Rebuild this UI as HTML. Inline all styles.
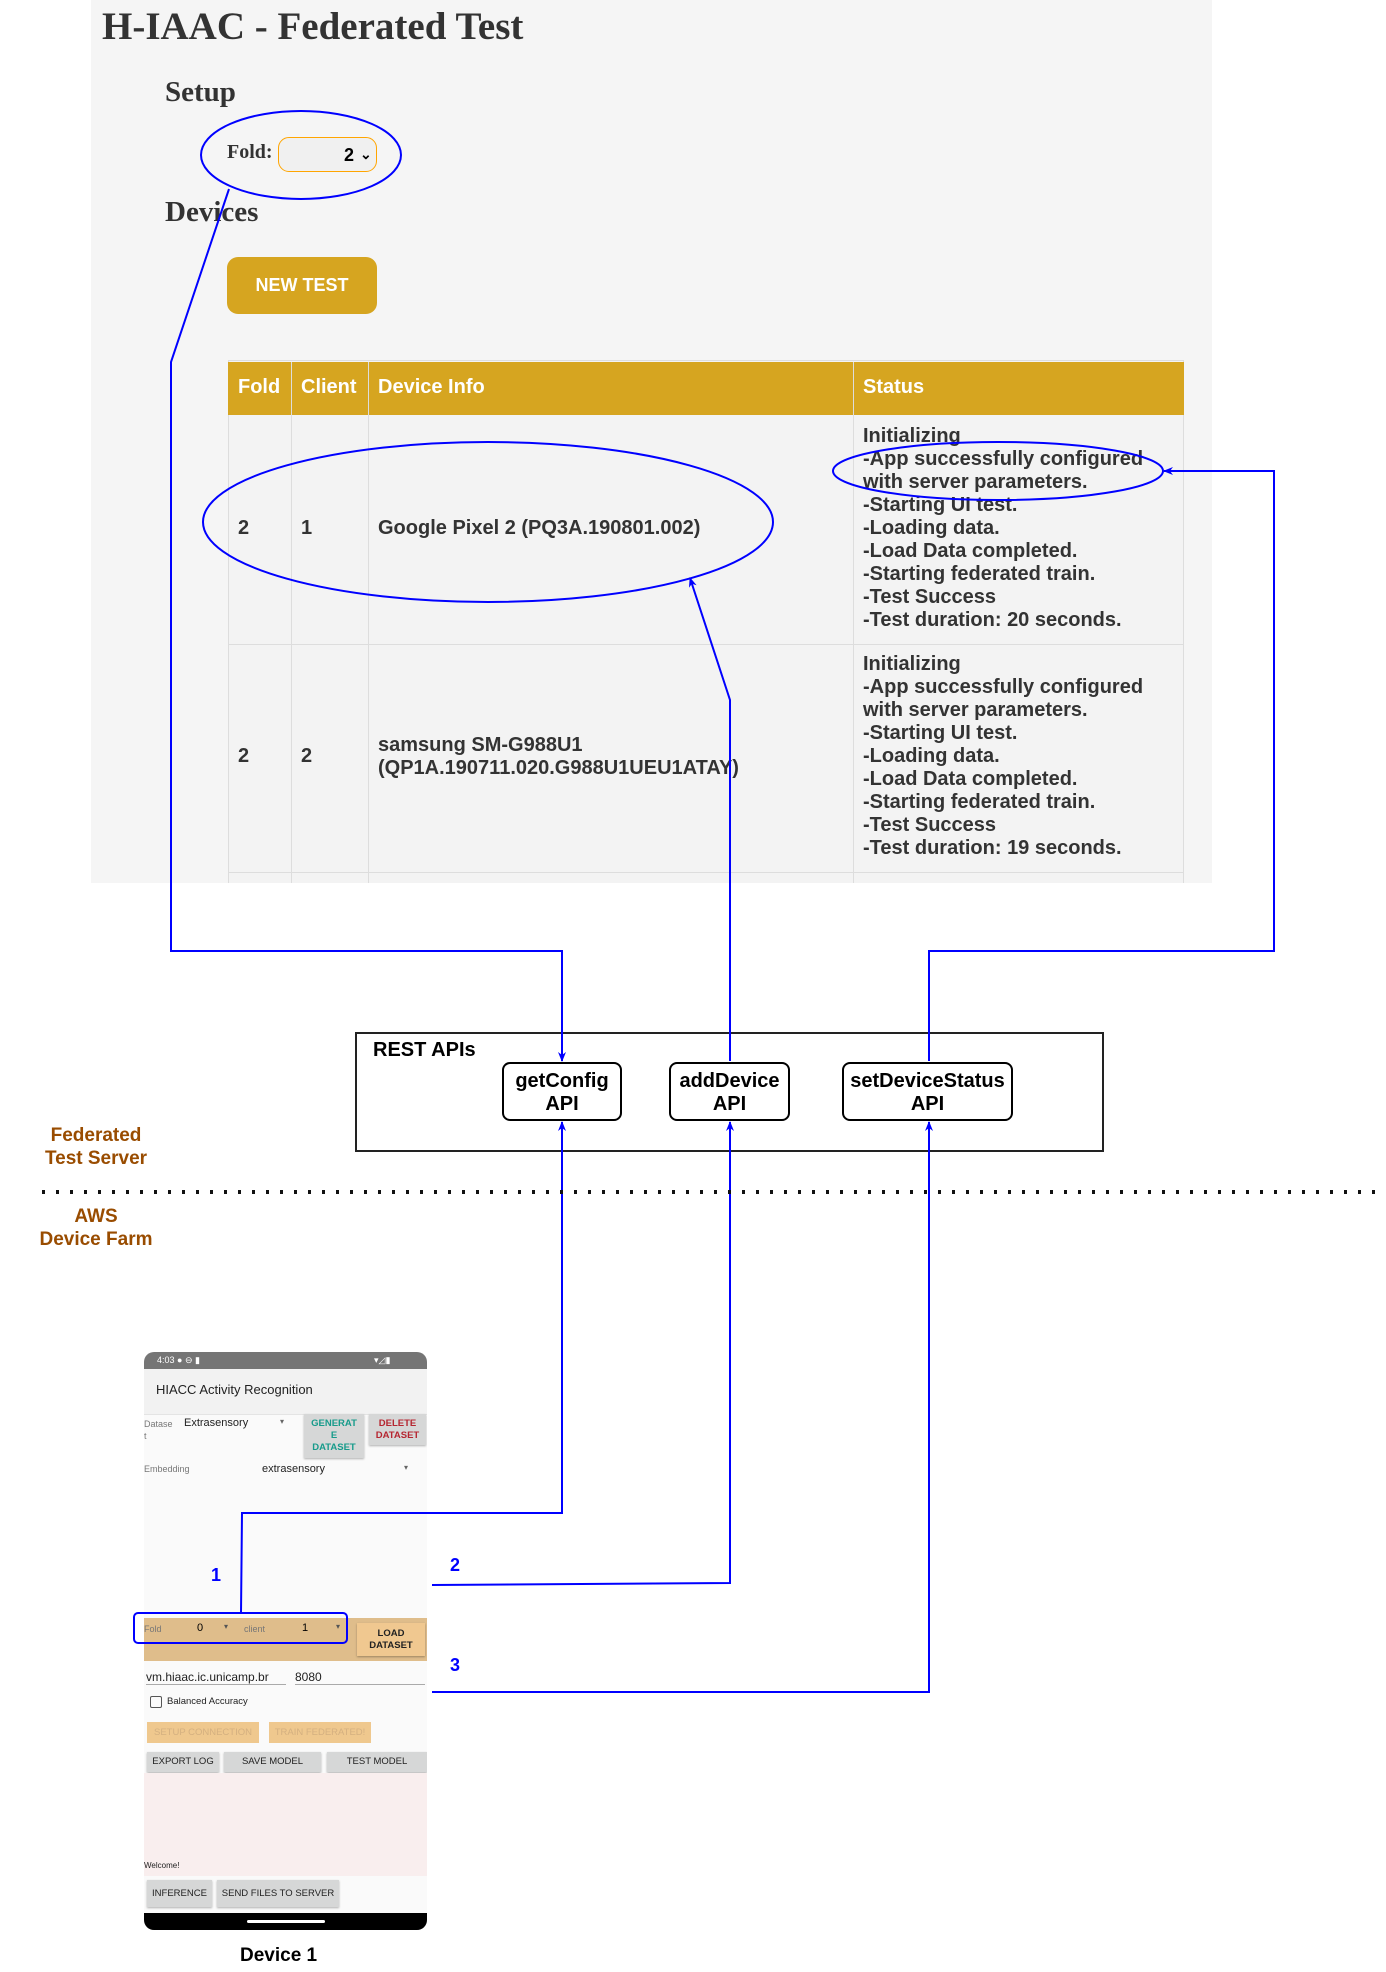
<!DOCTYPE html>
<html><head><meta charset="utf-8"><style>
*{margin:0;padding:0;box-sizing:border-box}
body{width:1386px;height:1972px;background:#fff;position:relative;overflow:hidden;font-family:"Liberation Sans",sans-serif}
.a{position:absolute;white-space:nowrap}
.serif{font-family:"Liberation Serif",serif;font-weight:bold;color:#333}
.td{position:absolute;font-size:20px;font-weight:bold;color:#333}
.st{position:absolute;left:863px;font-size:20px;font-weight:bold;color:#333;line-height:23px}
.api{position:absolute;border:2px solid #000;border-radius:8px;background:#fff;text-align:center;font-size:20px;font-weight:bold;line-height:23px;padding-top:6px}
.lbl{position:absolute;color:#994c00;font-weight:bold;font-size:19px;text-align:center;width:160px;line-height:23px}
.pb{position:absolute;background:#d6d7d7;font-size:9.5px;color:#222;text-align:center;box-shadow:0 1px 2px rgba(0,0,0,.3)}
</style></head><body>
<div class="a" style="left:91px;top:0;width:1121px;height:883px;background:#f5f5f5"></div>
<div class="a serif" style="left:102px;top:4px;font-size:39px">H-IAAC - Federated Test</div>
<div class="a serif" style="left:165px;top:76px;font-size:29px">Setup</div>
<div class="a serif" style="left:227px;top:141px;font-size:20px">Fold:</div>
<div class="a" style="left:278px;top:137px;width:99px;height:35px;border:1.5px solid #ffa500;border-radius:11px;background:#f0f0f0;font-size:18px;font-weight:bold;text-align:right;padding:7px 22px 0 0">2</div>
<div class="a" style="left:360px;top:146px;font-size:14px;font-weight:bold">&#8964;</div>
<div class="a serif" style="left:165px;top:196px;font-size:29px">Devices</div>
<div class="a" style="left:227px;top:257px;width:150px;height:57px;background:#d6a520;border-radius:11px;color:#fff;font-weight:bold;font-size:18px;text-align:center;line-height:57px">NEW TEST</div>

<div class="a" style="left:228px;top:360px;width:956px;height:523px;background:#f3f3f3;border:1px solid #ddd;border-bottom:none"></div>
<div class="a" style="left:228px;top:362px;width:956px;height:53px;background:#d6a520"></div>
<div class="a" style="left:228px;top:644px;width:956px;height:1px;background:#ddd"></div>
<div class="a" style="left:228px;top:872px;width:956px;height:1px;background:#ddd"></div>
<div class="a" style="left:291px;top:362px;width:1px;height:521px;background:#ddd"></div>
<div class="a" style="left:368px;top:362px;width:1px;height:521px;background:#ddd"></div>
<div class="a" style="left:853px;top:362px;width:1px;height:521px;background:#ddd"></div>
<div class="td" style="left:238px;top:376px;color:#fff">Fold</div>
<div class="td" style="left:301px;top:376px;color:#fff">Client</div>
<div class="td" style="left:378px;top:376px;color:#fff">Device Info</div>
<div class="td" style="left:863px;top:376px;color:#fff">Status</div>
<div class="td" style="left:238px;top:517px">2</div>
<div class="td" style="left:301px;top:517px">1</div>
<div class="td" style="left:378px;top:517px">Google Pixel 2 (PQ3A.190801.002)</div>
<div class="st" style="top:425px">Initializing<br>-App successfully configured<br>with server parameters.<br>-Starting UI test.<br>-Loading data.<br>-Load Data completed.<br>-Starting federated train.<br>-Test Success<br>-Test duration: 20 seconds.</div>
<div class="td" style="left:238px;top:745px">2</div>
<div class="td" style="left:301px;top:745px">2</div>
<div class="td" style="left:378px;top:734px;line-height:23px">samsung SM-G988U1<br>(QP1A.190711.020.G988U1UEU1ATAY)</div>
<div class="st" style="top:653px">Initializing<br>-App successfully configured<br>with server parameters.<br>-Starting UI test.<br>-Loading data.<br>-Load Data completed.<br>-Starting federated train.<br>-Test Success<br>-Test duration: 19 seconds.</div>

<div class="a" style="left:355px;top:1032px;width:749px;height:120px;border:2.5px solid #222"></div>
<div class="a" style="left:373px;top:1039px;font-size:20px;font-weight:bold">REST APIs</div>
<div class="api" style="left:502px;top:1062px;width:120px;height:59px">getConfig<br>API</div>
<div class="api" style="left:669px;top:1062px;width:121px;height:59px">addDevice<br>API</div>
<div class="api" style="left:842px;top:1062px;width:171px;height:59px">setDeviceStatus<br>API</div>
<div class="lbl" style="left:16px;top:1124px">Federated<br>Test Server</div>
<div class="lbl" style="left:16px;top:1205px">AWS<br>Device Farm</div>

<!-- phone -->
<div class="a" style="left:144px;top:1352px;width:283px;height:578px;background:#fafafa;border-radius:10px;overflow:hidden">
 <div class="a" style="left:0;top:0;width:283px;height:17px;background:#757575;color:#fff;font-size:9px;padding:3px 0 0 13px">4:03 ● ⊖ ▮<span style="position:absolute;left:230px">▾◿▮</span></div>
 <div class="a" style="left:0;top:17px;width:283px;height:46px;background:#f2f2f2;border-bottom:1px solid #e4e4e4;font-size:13px;color:#222;padding:13px 0 0 12px">HIACC Activity Recognition</div>
 <div class="a" style="left:0;top:66px;font-size:9px;color:#777;line-height:12px">Datase<br>t</div>
 <div class="a" style="left:40px;top:65px;font-size:11px;color:#222">Extrasensory</div>
 <div class="a" style="left:136px;top:65px;font-size:8px;color:#666">▾</div>
 <div class="pb" style="left:160px;top:62px;width:60px;height:44px;color:#179b8b;font-weight:bold;line-height:12px;padding-top:4px">GENERAT<br>E<br>DATASET</div>
 <div class="pb" style="left:225px;top:62px;width:57px;height:31px;color:#b52530;font-weight:bold;line-height:12px;padding-top:4px">DELETE<br>DATASET</div>
 <div class="a" style="left:0;top:112px;font-size:9px;color:#777">Embedding</div>
 <div class="a" style="left:118px;top:111px;font-size:11px;color:#222">extrasensory</div>
 <div class="a" style="left:260px;top:111px;font-size:8px;color:#666">▾</div>
 <div class="a" style="left:0;top:266px;width:283px;height:43px;background:#dfbd8b"></div>
 <div class="a" style="left:0;top:272px;font-size:9px;color:#777">Fold</div>
 <div class="a" style="left:53px;top:270px;font-size:11px">0</div>
 <div class="a" style="left:80px;top:270px;font-size:8px;color:#555">▾</div>
 <div class="a" style="left:100px;top:272px;font-size:9px;color:#777">client</div>
 <div class="a" style="left:158px;top:270px;font-size:11px">1</div>
 <div class="a" style="left:192px;top:270px;font-size:8px;color:#555">▾</div>
 <div class="pb" style="left:213px;top:271px;width:68px;height:33px;background:#f0c890;font-weight:bold;line-height:12px;padding-top:5px">LOAD<br>DATASET</div>
 <div class="a" style="left:2px;top:318px;font-size:12px;color:#222;width:140px;border-bottom:1px solid #aaa;height:15px">vm.hiaac.ic.unicamp.br</div>
 <div class="a" style="left:151px;top:318px;font-size:12px;color:#222;width:130px;border-bottom:1px solid #aaa;height:15px">8080</div>
 <div class="a" style="left:6px;top:344px;width:12px;height:12px;border:1.5px solid #555;border-radius:2px"></div>
 <div class="a" style="left:23px;top:344px;font-size:9.5px;color:#222">Balanced Accuracy</div>
 <div class="pb" style="left:3px;top:370px;width:112px;height:21px;background:#efc88e;color:#d4b080;line-height:21px;box-shadow:none">SETUP CONNECTION</div>
 <div class="pb" style="left:125px;top:370px;width:102px;height:21px;background:#efc88e;color:#d4b080;line-height:21px;box-shadow:none">TRAIN FEDERATED!</div>
 <div class="pb" style="left:3px;top:400px;width:72px;height:20px;line-height:20px">EXPORT LOG</div>
 <div class="pb" style="left:80px;top:400px;width:97px;height:20px;line-height:20px">SAVE MODEL</div>
 <div class="pb" style="left:183px;top:400px;width:100px;height:20px;line-height:20px">TEST MODEL</div>
 <div class="a" style="left:0;top:421px;width:283px;height:103px;background:#f9eeee"></div>
 <div class="a" style="left:0;top:509px;font-size:8px;color:#222">Welcome!</div>
 <div class="pb" style="left:3px;top:528px;width:65px;height:27px;line-height:27px">INFERENCE</div>
 <div class="pb" style="left:73px;top:528px;width:122px;height:27px;line-height:27px">SEND FILES TO SERVER</div>
 <div class="a" style="left:0;top:561px;width:283px;height:17px;background:#000"></div>
 <div class="a" style="left:103px;top:568px;width:78px;height:3px;background:#fff;border-radius:2px"></div>
</div>
<div class="a" style="left:240px;top:1945px;font-size:19px;font-weight:bold">Device 1</div>
<div class="a" style="left:211px;top:1565px;font-size:18px;font-weight:bold;color:#00f">1</div>
<div class="a" style="left:450px;top:1555px;font-size:18px;font-weight:bold;color:#00f">2</div>
<div class="a" style="left:450px;top:1655px;font-size:18px;font-weight:bold;color:#00f">3</div>

<svg class="a" style="left:0;top:0" width="1386" height="1972">
<defs><marker id="ar" markerWidth="10" markerHeight="10" refX="9" refY="5" orient="auto" markerUnits="userSpaceOnUse"><path d="M0,1 L10,5 L0,9 L3,5 Z" fill="#00f"/></marker></defs>
<g fill="none" stroke="#00f" stroke-width="2">
<ellipse cx="301" cy="155" rx="100" ry="44"/>
<ellipse cx="488" cy="522" rx="285" ry="80"/>
<ellipse cx="998" cy="471" rx="165" ry="29"/>
<polyline points="229,189 171,362 171,951 562,951 562,1061" marker-end="url(#ar)"/>
<polyline points="730,1061 730,700 690,578" marker-end="url(#ar)"/>
<polyline points="929,1061 929,951 1274,951 1274,471 1164,471" marker-end="url(#ar)"/>
<polyline points="241,1613 242,1513 562,1513 562,1122" marker-end="url(#ar)"/>
<polyline points="432,1585 730,1583 730,1122" marker-end="url(#ar)"/>
<polyline points="432,1692 929,1692 929,1122" marker-end="url(#ar)"/>
<rect x="134" y="1613" width="213" height="30" rx="4"/>
</g>
<line x1="42" y1="1192" x2="1386" y2="1192" stroke="#111" stroke-width="4" stroke-dasharray="3,11"/>
</svg>
</body></html>
